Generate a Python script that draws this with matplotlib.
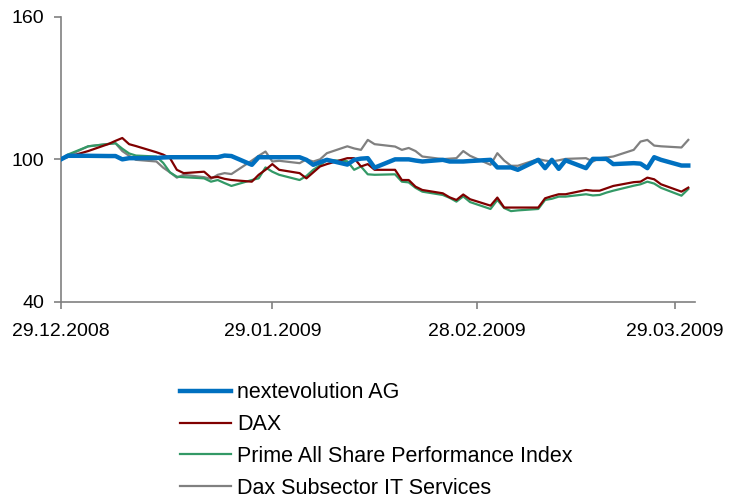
import matplotlib
matplotlib.use("Agg")
import matplotlib.pyplot as plt
import matplotlib.dates as mdates
import numpy as np

# ── Data (indexed to 100 on 29.12.2008) ──────────────────────────────────────
dates = np.array([
    "2008-12-29", "2008-12-30", "2009-01-02", "2009-01-05", "2009-01-06",
    "2009-01-07", "2009-01-08", "2009-01-09", "2009-01-12", "2009-01-13",
    "2009-01-14", "2009-01-15", "2009-01-16", "2009-01-19", "2009-01-20",
    "2009-01-21", "2009-01-22", "2009-01-23", "2009-01-26", "2009-01-27",
    "2009-01-28", "2009-01-29", "2009-01-30", "2009-02-02", "2009-02-03",
    "2009-02-04", "2009-02-05", "2009-02-06", "2009-02-09", "2009-02-10",
    "2009-02-11", "2009-02-12", "2009-02-13", "2009-02-16", "2009-02-17",
    "2009-02-18", "2009-02-19", "2009-02-20", "2009-02-23", "2009-02-24",
    "2009-02-25", "2009-02-26", "2009-02-27", "2009-03-02", "2009-03-03",
    "2009-03-04", "2009-03-05", "2009-03-06", "2009-03-09", "2009-03-10",
    "2009-03-11", "2009-03-12", "2009-03-13", "2009-03-16", "2009-03-17",
    "2009-03-18", "2009-03-19", "2009-03-20", "2009-03-23", "2009-03-24",
    "2009-03-25", "2009-03-26", "2009-03-27", "2009-03-30", "2009-03-31",
], dtype="datetime64[D]")

nextevolution = [
    100.0, 101.5, 101.5, 101.4, 101.4, 100.0, 100.5, 100.5, 100.6, 100.8,
    100.9, 100.9, 100.9, 100.9, 100.9, 100.9, 101.6, 101.4, 97.7, 100.9,
    100.9, 100.9, 100.9, 100.9, 99.8, 97.7, 98.8, 99.8, 97.8, 99.8,
    100.3, 100.5, 96.5, 100.0, 100.0, 100.0, 99.5, 99.1, 99.8, 99.1,
    99.1, 99.1, 99.3, 99.8, 96.6, 96.6, 96.6, 95.6, 99.8, 96.3,
    99.8, 96.0, 99.6, 96.3, 100.2, 100.2, 100.2, 98.0, 98.4, 98.2,
    96.3, 100.9, 99.8, 97.4, 97.4,
]
dax = [
    100.0, 101.0, 103.5, 106.5, 107.8, 109.0, 106.4, 105.6, 103.0, 102.0,
    100.5, 95.6, 94.2, 94.8, 92.3, 92.6, 91.8, 91.3, 90.6, 93.5,
    95.6, 98.0, 95.6, 94.2, 92.0, 94.5, 97.0, 98.0, 100.5, 100.5,
    97.0, 98.0, 95.6, 95.6, 91.3, 91.3, 88.5, 87.1, 85.7, 84.0,
    82.9, 85.2, 83.2, 80.5, 83.9, 79.7, 79.7, 79.7, 79.7, 83.6,
    84.5, 85.3, 85.3, 87.1, 86.8, 86.8, 87.8, 88.8, 90.4, 90.6,
    92.3, 91.6, 89.5, 86.4, 88.1,
]
prime_all_share = [
    100.0, 102.0, 105.5, 106.5, 106.8, 104.5, 102.5, 101.6, 101.2, 98.5,
    94.5, 92.7, 92.5, 92.0, 90.6, 91.3, 90.0, 88.8, 91.3, 92.0,
    96.6, 94.8, 93.5, 91.3, 93.0, 95.6, 97.5, 99.8, 99.2, 95.6,
    97.0, 93.7, 93.5, 93.7, 90.6, 90.3, 88.0, 86.4, 85.0, 83.8,
    82.2, 84.4, 82.0, 79.1, 82.9, 79.5, 78.2, 78.5, 79.1, 82.9,
    83.4, 84.3, 84.3, 85.3, 84.8, 85.0, 86.0, 86.8, 88.9, 89.5,
    90.6, 89.8, 88.0, 84.7, 87.5,
]
dax_it = [
    100.0, 101.5, 105.5, 106.5, 106.8, 103.5, 101.5, 99.8, 99.1, 96.5,
    94.5, 92.3, 93.5, 92.5, 91.8, 93.5, 94.2, 93.8, 99.5, 101.5,
    103.3, 99.1, 99.4, 98.4, 100.0, 99.1, 100.0, 102.6, 105.5, 104.6,
    104.0, 108.2, 106.4, 105.4, 104.0, 104.8, 103.5, 101.2, 100.1, 100.3,
    100.5, 103.5, 101.5, 97.7, 102.6, 99.5, 97.3, 97.3, 100.1, 99.5,
    99.1, 99.6, 100.2, 100.5, 99.1, 100.5, 100.8, 101.2, 104.0, 107.5,
    108.2, 105.8, 105.5, 105.0, 108.2,
]

labels = ["nextevolution AG", "DAX", "Prime All Share Performance Index",
          "Dax Subsector IT Services"]
y_ticks = [40, 100, 160]
x_ticks = np.array(["2008-12-29", "2009-01-29", "2009-02-28", "2009-03-29"],
                   dtype="datetime64[D]")

# ── Plot ─────────────────────────────────────────────────────────────────────
plt.rcParams["font.family"] = ["Liberation Sans", "DejaVu Sans"]

fig = plt.figure(figsize=(7.34, 4.98), dpi=100)
ax = fig.add_axes([0.083, 0.394, 0.864, 0.572])

ax.plot(dates, nextevolution, color="#0070C0", lw=3.2, label=labels[0],
        solid_joinstyle="round", zorder=5)
ax.plot(dates, dax, color="#800000", lw=1.6, label=labels[1], zorder=4)
ax.plot(dates, prime_all_share, color="#339966", lw=1.6, label=labels[2], zorder=3)
ax.plot(dates, dax_it, color="#808080", lw=1.6, label=labels[3], zorder=2)

ax.set_xlim(np.datetime64("2008-12-29"), np.datetime64("2009-04-01"))
ax.set_ylim(40, 160)
ax.set_yticks(y_ticks)
ax.set_xticks(x_ticks)
ax.xaxis.set_major_formatter(mdates.DateFormatter("%d.%m.%Y"))

for side in ("top", "right"):
    ax.spines[side].set_visible(False)
for side in ("left", "bottom"):
    ax.spines[side].set_color("#808080")
    ax.spines[side].set_linewidth(1.2)
ax.tick_params(axis="both", colors="#808080", labelcolor="black",
               labelsize=14, length=5, width=1.2)
ax.tick_params(axis="x", pad=10)
ax.tick_params(axis="y", pad=7)

leg = fig.legend(loc="upper left", bbox_to_anchor=(0.231, 0.254),
                 frameon=False, fontsize=15.5, handlelength=2.35,
                 handletextpad=0.28, labelspacing=0.5, borderpad=0)

fig.savefig("out.png", dpi=100)
